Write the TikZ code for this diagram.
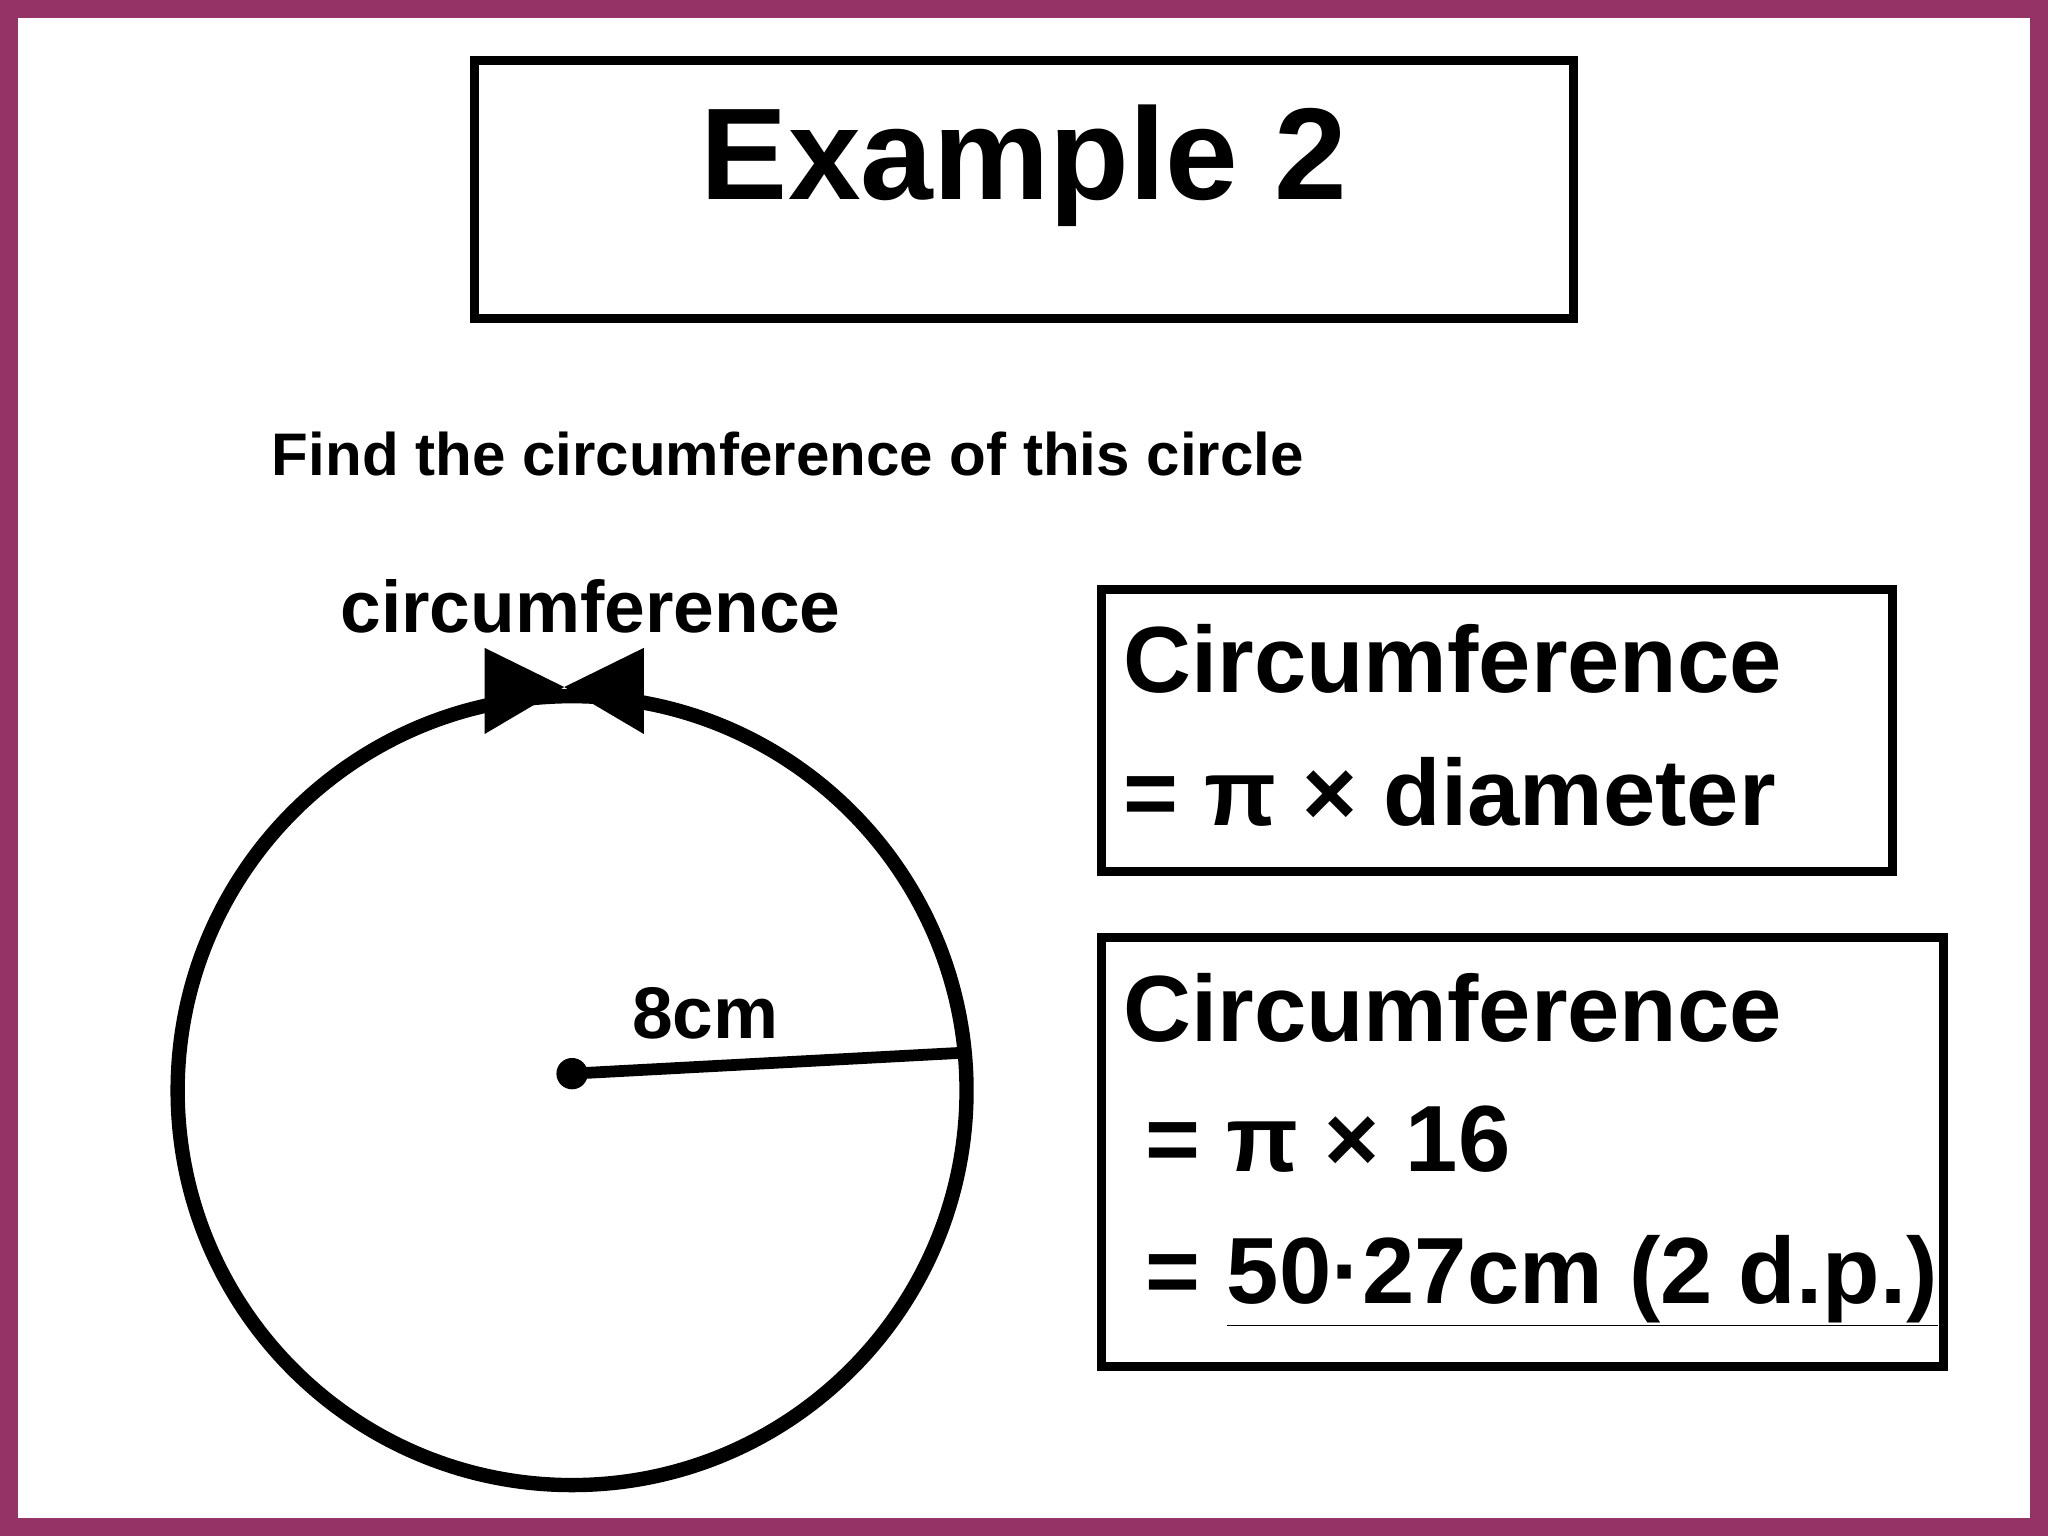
\documentclass[tikz,border=0pt]{standalone}
\usepackage{fontspec}
\setmainfont{Liberation Sans}
\definecolor{frame}{HTML}{963366}
\begin{document}
\begin{tikzpicture}[x=1pt,y=-1pt,
  txt/.style={font=\bfseries\fontsize{72}{80}\selectfont,anchor=base west,inner sep=0pt},
  box/.style={draw,line width=7pt}]
\useasboundingbox (0,0) rectangle (1568,1176);
\fill[white] (0,0) rectangle (1568,1176);
\draw[frame,line width=14pt] (7,7) rectangle (1561,1169);
\node[box,minimum width=842pt,minimum height=198pt,font=\bfseries\fontsize{100}{110}\selectfont] (title) at (784,145) {};
\node[font=\bfseries\fontsize{100}{110}\selectfont,anchor=base,inner sep=0pt] (tt) at (784,153) {Example 2};
\node[font=\bfseries\fontsize{46}{50}\selectfont,anchor=base west,inner sep=0pt] (q) at (208,364) {Find the circumference of this circle};
\node[draw,circle,line width=11pt,minimum size=604pt] (c) at (438,835) {};
\fill (438,822) circle (12);
\coordinate (ctr) at (438,822);
\coordinate (rim) at (737,806);
\draw[line width=9pt] (ctr) -- (rim);
\node[font=\bfseries\fontsize{56}{60}\selectfont,anchor=base,inner sep=0pt] (r) at (540,795) {8cm};
\node[font=\bfseries\fontsize{56}{60}\selectfont,anchor=base,inner sep=0pt] (cl) at (452,484) {circumference};
\fill (371,496) -- (432,526) -- (371,562) -- cycle;
\fill (493,496) -- (432,526) -- (493,562) -- cycle;
\node[box,minimum width=606pt,minimum height=216pt] (b1) at (1146,559) {};
\node[txt] (l1) at (860,530) {Circumference};
\node[txt] (l2) at (860,632) {= π × diameter};
\node[box,minimum width=645pt,minimum height=328pt] (b2) at (1165.5,882) {};
\node[txt] (m1) at (860,797) {Circumference};
\node[txt] (m2) at (877,897) {= π × 16};
\node[txt] (m3) at (877,998) {= \underline{50·27cm (2 d.p.)}};
\end{tikzpicture}
\end{document}
